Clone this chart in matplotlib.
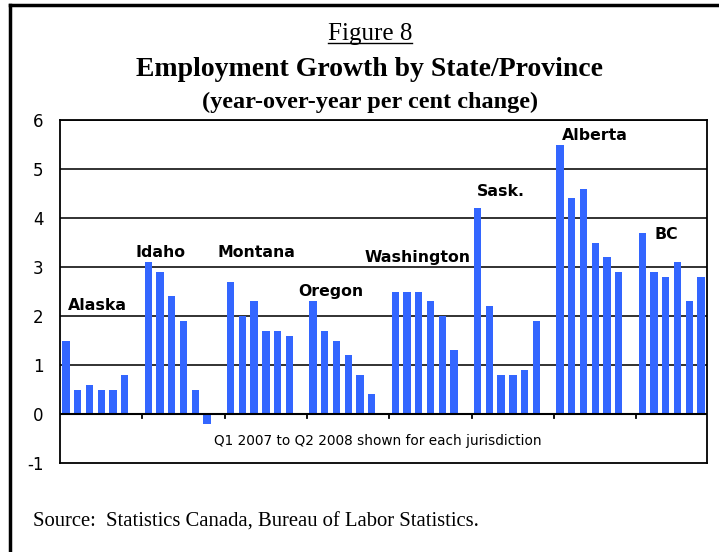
import numpy as np
import matplotlib
matplotlib.use("Agg")
import matplotlib.pyplot as plt
from matplotlib.lines import Line2D

plt.rcParams["axes.unicode_minus"] = False

# data: Q1 2007 to Q2 2008 for each jurisdiction
groups = ["Alaska", "Idaho", "Montana", "Oregon", "Washington", "Sask.", "Alberta", "BC"]
alaska = [1.5, 0.5, 0.6, 0.5, 0.5, 0.8]
idaho = [3.1, 2.9, 2.4, 1.9, 0.5, -0.2]
montana = [2.7, 2.0, 2.3, 1.7, 1.7, 1.6]
oregon = [2.3, 1.7, 1.5, 1.2, 0.8, 0.4]
washington = [2.5, 2.5, 2.5, 2.3, 2.0, 1.3]
sask = [4.2, 2.2, 0.8, 0.8, 0.9, 1.9]
alberta = [5.5, 4.4, 4.6, 3.5, 3.2, 2.9]
bc = [3.7, 2.9, 2.8, 3.1, 2.3, 2.8]
series = [alaska, idaho, montana, oregon, washington, sask, alberta, bc]

# label anchor (category index, value) for each group name
label_x = [0.18, 5.88, 12.85, 19.74, 25.35, 34.96, 42.19, 50.0]
label_y = [2.22, 3.29, 3.29, 2.5, 3.2, 4.54, 5.69, 3.67]

bar_color = "#3366FF"

# one empty slot between jurisdictions
vals = []
for i, s in enumerate(series):
    vals += s
    if i < len(series) - 1:
        vals.append(np.nan)
x = np.arange(len(vals))

fig = plt.figure(figsize=(7.19, 5.52), dpi=100)
ax = fig.add_axes([60 / 719, 1 - 463 / 552, 647 / 719, 343 / 552])

ax.bar(x, vals, width=0.62, color=bar_color, zorder=3)

ax.set_xlim(-0.5, len(vals) - 0.5)
ax.set_ylim(-1, 6)
ax.set_yticks(range(-1, 7))
for v in range(1, 7):
    ax.axhline(v, color="#222222", lw=1.3, zorder=1)
ax.axhline(0, color="black", lw=1.5, zorder=4)
# tick marks on the zero line between jurisdictions
for k in range(1, 8):
    ax.plot([k * 7 - 0.5] * 2, [0, -0.08], color="black", lw=1.3, zorder=4)

ax.set_xticks([])
ax.tick_params(axis="y", length=0, pad=12, labelsize=12)
for sp in ax.spines.values():
    sp.set_linewidth(1.3)
    sp.set_color("black")

for g, lx, ly in zip(groups, label_x, label_y):
    ax.text(lx, ly, g, fontsize=11.3, fontweight="bold", va="center", ha="left", zorder=5)

ax.text(26.5, -0.56, "Q1 2007 to Q2 2008 shown for each jurisdiction",
        fontsize=9.8, ha="center", va="center")

serif = "Liberation Serif"
t1 = fig.text(370 / 719, 1 - 34 / 552, "Figure 8", family=serif, fontsize=18,
              ha="center", va="center")
fig.text(370 / 719, 1 - 70 / 552, "Employment Growth by State/Province", family=serif,
         fontsize=20, fontweight="bold", ha="center", va="center")
fig.text(370 / 719, 1 - 102 / 552, "(year-over-year per cent change)", family=serif,
         fontsize=17.5, fontweight="bold", ha="center", va="center")
fig.text(33 / 719, 1 - 522 / 552, "Source:  Statistics Canada, Bureau of Labor Statistics.",
         family=serif, fontsize=14.9, ha="left", va="center")

# underline "Figure 8"
fig.canvas.draw()
bb = t1.get_window_extent().transformed(fig.transFigure.inverted())
fig.add_artist(Line2D([bb.x0, bb.x1], [bb.y0 + 0.004] * 2, color="black", lw=1))

# page border: top and left only
fig.add_artist(Line2D([10 / 719, 1], [1 - 5 / 552] * 2, color="black", lw=2.5))
fig.add_artist(Line2D([10 / 719] * 2, [0, 1 - 5 / 552], color="black", lw=2.5))

fig.savefig("out.png", dpi=100)
